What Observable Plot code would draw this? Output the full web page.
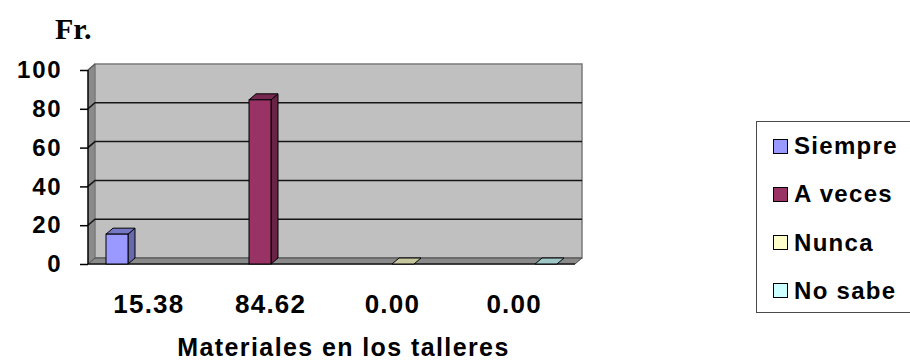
<!DOCTYPE html>
<html>
<head>
<meta charset="utf-8">
<script src="https://cdn.jsdelivr.net/npm/d3@7"></script>
<script src="https://cdn.jsdelivr.net/npm/@observablehq/plot@0.6"></script>
<style>
  html, body { margin: 0; padding: 0; background: #fff; }
  #chart { position: relative; width: 910px; height: 362px; overflow: hidden;
           font-family: "Liberation Sans", Arial, sans-serif; color: #000; }
  #chart svg { position: absolute; left: 0; top: 0; overflow: visible; }
  #chart svg text { letter-spacing: 1.8px; }
  .legend { position: absolute; left: 756px; top: 121px; width: 200px; height: 192px;
            border: 1.5px solid #4a4a4a; box-sizing: border-box; background: #fff; }
  .legend .item { position: absolute; left: 16px; height: 28px; display: flex; align-items: center;
                  font-size: 24px; font-weight: bold; letter-spacing: 1.3px; white-space: nowrap; }
  .legend .sw { width: 13px; height: 13px; border: 1px solid #000; margin-right: 6px; flex: none; }
</style>
</head>
<body>
<div id="chart"></div>
<script>
// ---- data ----
const series = ["Siempre", "A veces", "Nunca", "No sabe"];
const values = [15.38, 84.62, 0.00, 0.00];
const colors = ["#9999FF", "#993366", "#FFFFCC", "#CCFFFF"];
const yTicks = [0, 20, 40, 60, 80, 100];
const valueLabels = ["15.38", "84.62", "0.00", "0.00"];
const yTitle = "Fr.";
const xTitle = "Materiales en los talleres";

const rows = series.map((s, i) => ({series: s, value: values[i]}));

// 3D depth offset (px)
const DX = 7, DY = -6;

function shade(c, k) {
  const r = d3.rgb(c);
  return d3.rgb(r.r * k, r.g * k, r.b * k).formatHex();
}

function poly(g, pts, attrs) {
  const p = g.append("polygon").attr("points", pts.map(p => p.join(",")).join(" "));
  for (const k in attrs) p.attr(k, attrs[k]);
  return p;
}

// walls, floor and gridlines
function walls(index, scales, vals, dims) {
  const {y} = scales;
  const g = d3.create("svg:g");
  const x0 = dims.marginLeft, x1 = dims.width - dims.marginRight;
  const yb = y(0), yt = y(d3.max(yTicks));
  // left side wall
  poly(g, [[x0, yt], [x0 + DX, yt + DY], [x0 + DX, yb + DY], [x0, yb]], {fill: "#8a8a8a"});
  // back wall
  g.append("rect").attr("x", x0 + DX).attr("y", yt + DY).attr("width", x1 - x0)
    .attr("height", yb - yt).attr("fill", "#c0c0c0").attr("stroke", "#7a7a7a").attr("stroke-width", 1.5);
  // floor
  poly(g, [[x0, yb], [x0 + DX, yb + DY], [x1 + DX, yb + DY], [x1, yb]],
       {fill: "#8a8a8a", stroke: "#4a4a4a", "stroke-width": 1});
  g.append("line").attr("x1", x0).attr("x2", x1).attr("y1", yb).attr("y2", yb)
    .attr("stroke", "#222").attr("stroke-width", 1.5);
  // gridlines
  for (const t of yTicks) {
    if (t === 0 || t === d3.max(yTicks)) continue;
    g.append("polyline")
      .attr("points", [[x0, y(t)], [x0 + DX, y(t) + DY], [x1 + DX, y(t) + DY]].map(p => p.join(",")).join(" "))
      .attr("fill", "none").attr("stroke", "#141414").attr("stroke-width", 1.5);
  }
  // top edge of the left wall
  g.append("line").attr("x1", x0).attr("y1", yt).attr("x2", x0 + DX).attr("y2", yt + DY)
    .attr("stroke", "#555").attr("stroke-width", 1.5);
  // front vertical axis line
  g.append("line").attr("x1", x0).attr("x2", x0).attr("y1", yt).attr("y2", yb)
    .attr("stroke", "#000").attr("stroke-width", 1.5);
  return g.node();
}

// side and top faces of the bars
function barDepth(index, scales, vals, dims) {
  const {x, y} = scales;
  const g = d3.create("svg:g");
  const bw = x.bandwidth();
  const base = y(0);
  rows.forEach((r, i) => {
    const bx0 = x(r.series), bx1 = bx0 + bw, by = y(r.value);
    if (r.value > 0) {
      poly(g, [[bx1, by], [bx1 + DX, by + DY], [bx1 + DX, base + DY], [bx1, base]],
           {fill: shade(colors[i], 0.68), stroke: "#000", "stroke-width": 1});
    }
    poly(g, [[bx0, by], [bx1, by], [bx1 + DX, by + DY], [bx0 + DX, by + DY]],
         {fill: shade(colors[i], 0.78), stroke: "#000", "stroke-width": 1});
  });
  return g.node();
}

// titles and the category value row
function texts(index, scales, vals, dims) {
  const g = d3.create("svg:g").attr("fill", "#000");
  const x0 = dims.marginLeft, x1 = dims.width - dims.marginRight;
  const yb = dims.height - dims.marginBottom;
  const step = (x1 - x0) / valueLabels.length;
  valueLabels.forEach((t, i) => {
    g.append("text").attr("x", x0 + (i + 0.5) * step).attr("y", yb + 49)
      .attr("text-anchor", "middle").attr("font-size", 26).attr("font-weight", "bold")
      .style("letter-spacing", "1.2px").text(t);
  });
  g.append("text").attr("x", (x0 + x1) / 2 + 12).attr("y", dims.height - 6)
    .attr("text-anchor", "middle").attr("font-size", 25).attr("font-weight", "bold")
    .style("letter-spacing", "1.4px").text(xTitle);
  g.append("text").attr("x", x0 - 33).attr("y", dims.marginTop - 31)
    .attr("text-anchor", "start")
    .attr("font-family", "'Liberation Serif', 'Times New Roman', serif")
    .attr("font-size", 30).attr("font-weight", "bold").style("letter-spacing", "0px").text(yTitle);
  return g.node();
}

const chart = Plot.plot({
  width: 910,
  height: 362,
  marginLeft: 88,
  marginRight: 335,
  marginTop: 70,
  marginBottom: 98,
  style: {background: "transparent", fontFamily: "'Liberation Sans', Arial, sans-serif",
          fontSize: "24px", fontWeight: "bold", color: "#000", overflow: "visible"},
  x: {type: "band", domain: series, paddingInner: 0.847, paddingOuter: 0.118, axis: null},
  y: {domain: [0, d3.max(yTicks)]},
  color: {domain: series, range: colors},
  marks: [
    walls,
    barDepth,
    Plot.barY(rows, {x: "series", y: "value", fill: "series", stroke: "#000", strokeWidth: 1}),
    Plot.axisY(yTicks, {tickSize: 8, tickPadding: 18, label: null, fontSize: 24,
                        fontWeight: "bold", stroke: "#000", strokeWidth: 1.5}),
    texts
  ]
});
const root = document.getElementById("chart");
root.appendChild(chart);

// legend
const legend = d3.select(root).append("div").attr("class", "legend");
series.forEach((s, i) => {
  const item = legend.append("div").attr("class", "item").style("top", (10 + i * 48.3) + "px");
  item.append("div").attr("class", "sw").style("background", colors[i]);
  item.append("span").text(s);
});
</script>
</body>
</html>
